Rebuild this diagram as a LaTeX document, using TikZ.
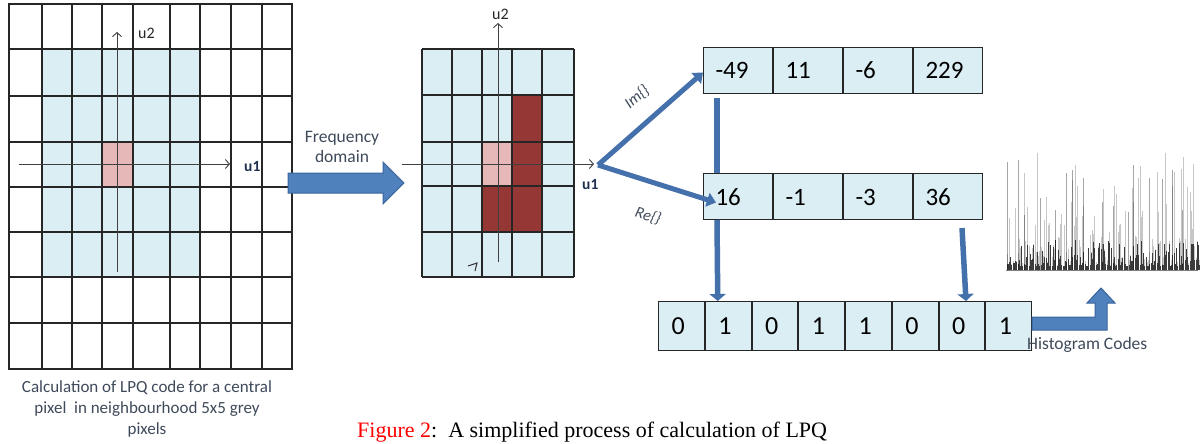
\documentclass[tikz,border=0pt]{standalone}
\usepackage{fontspec}
\setmainfont{Carlito}
\newfontfamily\capfont{Liberation Serif}
\usetikzlibrary{arrows.meta,calc}
\definecolor{lblue}{HTML}{DBEEF4}
\definecolor{pinkc}{HTML}{E6B9B8}
\definecolor{dred}{HTML}{953735}
\definecolor{arrblue}{HTML}{4F81BD}
\definecolor{arrdark}{HTML}{3A649C}
\definecolor{barblue}{HTML}{4470AB}
\definecolor{txtc}{HTML}{3F4A5A}
\definecolor{navy}{HTML}{1F3050}
\definecolor{gridc}{HTML}{262626}
\begin{document}
\begin{tikzpicture}[x=1pt,y=-1pt,
  gridline/.style={draw=gridc,line width=1.3pt},
  axis/.style={draw=black!75,line width=0.9pt,-{Straight Barb[length=4pt,width=9pt]}},
  cellbase/.style={draw=gridc,line width=1pt,fill=lblue,anchor=north west,
    inner ysep=0pt,align=left,text height=17pt,text depth=0pt,text=black},
  numcell/.style={cellbase,minimum height=46pt,inner xsep=12pt,text width=45pt,
    font=\fontsize{25}{28}\selectfont},
  bitcell/.style={cellbase,minimum height=49pt,inner xsep=13pt,text width=19.75pt,
    font=\fontsize{26}{28}\selectfont},
  thick arrow/.style={draw=barblue,line width=5pt,
    -{Triangle[length=9pt,width=14pt]}},
  vbar/.style={draw=barblue,line width=5.5pt},
  vbararrow/.style={vbar,-{Triangle[length=7pt,width=16pt]}},
  blockarrow/.style={fill=arrblue,draw=arrdark,line width=1pt,line join=miter},
  lbl/.style={text=txtc,inner sep=0pt},
  axlbl/.style={inner sep=0pt,font=\fontsize{16}{18}\selectfont,text=black!85},
  axlblb/.style={inner sep=0pt,font=\fontsize{15.5}{17}\selectfont\bfseries,text=navy},
  funlbl/.style={inner sep=0pt,font=\fontsize{16}{18}\selectfont\itshape,text=txtc}]
\useasboundingbox (0,0) rectangle (1203,444);
\fill[white] (0,0) rectangle (1203,444);

% ---------- left grid ----------
\fill[lblue] (42,49) rectangle (200,277);
\fill[pinkc] (102,142) rectangle (133,187);
\foreach \x in {9,42,72,102,133,170,200,231,262,292}
  \draw[gridline] (\x,3) -- (\x,370);
\foreach \y in {4,49,96,142,187,232,277,323,369}
  \draw[gridline] (8,\y) -- (293,\y);
\coordinate (lu1s) at (19,164);
\coordinate (lu1e) at (230,164);
\coordinate (lu2s) at (117,272);
\coordinate (lu2e) at (117,32);
\draw[axis] (lu1s) -- (lu1e);
\draw[axis] (lu2s) -- (lu2e);
\node[axlbl,anchor=west] (lu2) at (138,33) {u2};
\node[axlblb,anchor=west] (lu1) at (244,167) {u1};
\node[lbl,align=center,font=\fontsize{17}{21}\selectfont] (lcap) at (147,409)
  {Calculation of LPQ code for a central\\pixel\ \ in neighbourhood 5x5 grey\\pixels};

% ---------- frequency arrow ----------
\draw[blockarrow] (288,173) -- (383,173) -- (383,162) -- (404,183) -- (383,204)
  -- (383,193) -- (288,193) -- cycle;
\node[lbl,align=center,font=\fontsize{17.5}{20}\selectfont] (freq) at (342,147)
  {Frequency\\domain};

% ---------- middle grid ----------
\fill[lblue] (422,49) rectangle (574,277);
\fill[pinkc] (482,142) rectangle (512,186);
\fill[dred] (512,95) rectangle (542,232);
\fill[dred] (482,186) rectangle (512,232);
\foreach \x in {422,452,482,512,542,574}
  \draw[gridline] (\x,49) -- (\x,277);
\foreach \y in {49,95,142,186,232,277}
  \draw[gridline] (422,\y) -- (574,\y);
\coordinate (mu1s) at (402,164);
\coordinate (mu1e) at (594,164);
\coordinate (mu2s) at (498,262);
\coordinate (mu2e) at (498,23);
\draw[axis] (mu1s) -- (mu1e);
\draw[axis] (mu2s) -- (mu2e);
\node[axlbl,anchor=west] (mu2) at (492,14) {u2};
\node[axlblb,anchor=west] (mu1) at (582,185) {u1};
\draw[draw=black!80,line width=1pt] (468,266) -- (477,263) -- (475,271);

% ---------- number rows ----------
\node[numcell] (t1) at (703,47) {-49};
\node[numcell] (t2) at (t1.north east) {11};
\node[numcell] (t3) at (t2.north east) {-6};
\node[numcell] (t4) at (t3.north east) {229};
\node[numcell] (r1) at (703,173) {16};
\node[numcell] (r2) at (r1.north east) {-1};
\node[numcell] (r3) at (r2.north east) {-3};
\node[numcell] (r4) at (r3.north east) {36};

% ---------- bit row ----------
\node[bitcell] (b1) at (658,301) {0};
\node[bitcell] (b2) at (b1.north east) {1};
\node[bitcell] (b3) at (b2.north east) {0};
\node[bitcell] (b4) at (b3.north east) {1};
\node[bitcell] (b5) at (b4.north east) {1};
\node[bitcell] (b6) at (b5.north east) {0};
\node[bitcell] (b7) at (b6.north east) {0};
\node[bitcell] (b8) at (b7.north east) {1};

% ---------- Im / Re arrows ----------
\coordinate (fork) at (598,165);
\draw[thick arrow] (fork) -- ([yshift=-2pt]t1.west);
\draw[thick arrow] (fork) -- ([xshift=13pt,yshift=-6pt]r1.west);
\node[funlbl,rotate=40] (im) at (637,97) {Im\{\}};
\node[funlbl,rotate=-17] (re) at (648,216) {Re\{\}};

% ---------- vertical connectors ----------
\draw[vbar] ([xshift=14pt,yshift=-4pt]t1.south west) -- ([xshift=14pt]r1.north west);
\draw[vbararrow] ([xshift=14pt]r1.south west) -- ([xshift=13pt]b2.north west);
\draw[vbararrow] ([xshift=49pt,yshift=-8pt]r4.south west) -- ([xshift=27.5pt]b7.north west);

% ---------- histogram arrow ----------
\draw[blockarrow] (b8.east |- 0,317) -- (1095,317) -- (1095,303) -- (1087,303)
  -- (1101,288) -- (1115,303) -- (1107,303) -- (1107,330) -- (b8.east |- 0,330) -- cycle;
\node[lbl,anchor=west,font=\fontsize{17.5}{19}\selectfont] (hc) at (1027,345) {Histogram Codes};

% ---------- histogram ----------
\pgfmathsetseed{4242}
\foreach \k in {0,...,158} {
  \pgfmathsetmacro{\hx}{1007+\k*1.22}
  \pgfmathsetmacro{\ra}{rnd}
  \pgfmathsetmacro{\rb}{rnd}
  \pgfmathsetmacro{\hA}{4+26*\ra*\ra}
  \pgfmathsetmacro{\hB}{\hA+104*\rb*\rb*\rb*\rb}
  \draw[black,opacity=0.22,line width=0.9pt] (\hx,270) -- (\hx,270-\hB);
  \draw[black,opacity=0.7,line width=0.9pt] (\hx,270) -- (\hx,270-\hA);
}
\foreach \hx/\hh in {1007/108,1018/110,1024/55,1040/72,1055/60,1066/97,1072/100,1083/92,1102/68,1113/64,1128/58,1133/105,1149/92,1162/91,1172/100,1182/60}
  \draw[black,opacity=0.35,line width=1pt] (\hx,270) -- (\hx,270-\hh);
\draw[black,opacity=0.5,line width=0.8pt] (1006,270) -- (1198,270);

% ---------- caption ----------
\node[anchor=west,inner sep=0pt,font=\capfont\fontsize{22}{24}\selectfont] (cap) at (357,432)
  {\textcolor{red}{Figure 2}:\ \ A simplified process of calculation of LPQ};
\end{tikzpicture}
\end{document}
